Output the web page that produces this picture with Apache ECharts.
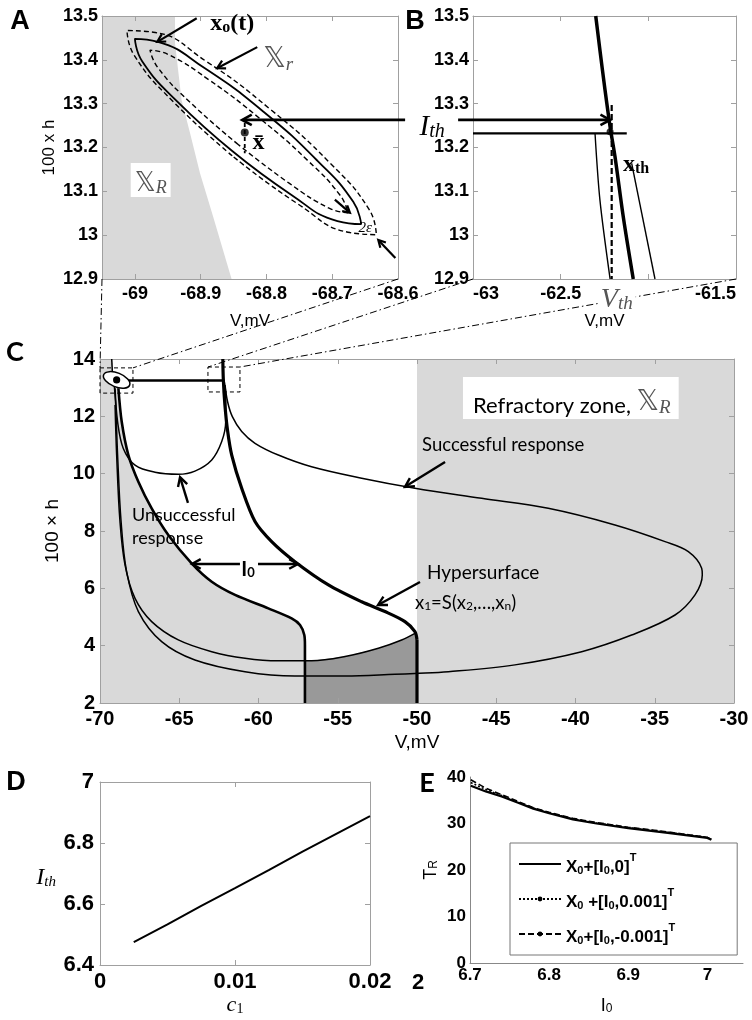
<!DOCTYPE html>
<html><head><meta charset="utf-8">
<script src="https://cdn.jsdelivr.net/npm/echarts@6/dist/echarts.min.js"></script>
<style>html,body{margin:0;padding:0;background:#fff}#c{width:752px;height:1020px}</style>
</head><body><div id="c"></div>
<script>
// ================= DATA =================
// ---- Panel A : neighbourhood of the resting state ----
const A_xTicks = [-69, -68.9, -68.8, -68.7, -68.6];
const A_refractory = [[-69.05,12.9],[-69.05,13.5],[-68.939,13.5],[-68.939,13.438],[-68.929,13.308],[-68.916,13.232],[-68.901,13.141],[-68.881,13.042],[-68.853,12.9]];
const A_orbit = [[-68.852,13.192],[-68.935,13.304],[-68.989,13.397],[-69.000,13.448],[-68.965,13.441],[-68.893,13.380],[-68.804,13.281],[-68.722,13.169],[-68.668,13.076],[-68.656,13.025],[-68.692,13.032],[-68.763,13.093],[-68.852,13.192]];
const A_outer = [[-68.852,13.181],[-68.942,13.305],[-69.001,13.410],[-69.012,13.467],[-68.972,13.463],[-68.892,13.397],[-68.794,13.287],[-68.703,13.164],[-68.644,13.059],[-68.633,13.001],[-68.673,13.006],[-68.753,13.072],[-68.852,13.181]];
const A_inner = [[-68.843,13.207],[-68.916,13.303],[-68.965,13.382],[-68.977,13.422],[-68.949,13.412],[-68.888,13.355],[-68.810,13.266],[-68.737,13.170],[-68.688,13.091],[-68.676,13.051],[-68.704,13.061],[-68.765,13.118],[-68.843,13.207]];
const A_xbar = [[-68.833,13.234]];
const A_xbarDash = [[-68.833,13.256],[-68.833,13.187]];

// ---- Panel B : neighbourhood of the threshold ----
const B_xTicks = [-63, -62.5, -62, -61.5];
const B_xLabels = [-63, -62.5, -61.5];
const B_thick = [[-62.30,13.5],[-62.276,13.422],[-62.247,13.331],[-62.218,13.247],[-62.19,13.179],[-62.143,13.042],[-62.086,12.9]];
const B_thinL = [[-62.304,13.232],[-62.276,13.08],[-62.218,12.9]];
const B_thinR = [[-62.095,13.164],[-61.962,12.9]];
const B_horiz = [[-63,13.232],[-62.123,13.232]];
const B_dash = [[-62.209,13.297],[-62.209,12.9]];
const B_xth = [[-62.218,13.236]];

// ---- Panel C : phase plane (V, 100 x h) ----
const C_grayLeft = [[-70,2],[-70,14],[-69.26,14],[-69.2,13.5],[-69.05,13.1],[-68.84,12.98],[-68.63,11.81],[-68.21,10.65],[-67.58,9.72],[-66.74,8.79],[-65.69,7.86],[-64.22,6.87],[-62.95,6.23],[-61.48,5.77],[-59.38,5.30],[-57.91,4.95],[-57.38,4.72],[-57.11,4.37],[-57.07,4.02],[-57.07,2]];
const C_dark = [[-57.07,2],[-57.07,3.47],[-56.65,3.47],[-54.54,3.62],[-52.44,3.91],[-50.97,4.20],[-50.13,4.43],[-50,4.3],[-50,2]];
const C_grayRight = [[-50,2],[-50,14],[-30,14],[-30,2]];
const C_hyper = [[-62.25,14],[-62.22,13.3],[-62.12,12.4],[-61.95,11.5],[-61.69,10.65],[-61.06,9.49],[-60.22,8.33],[-59.17,7.63],[-57.7,6.93],[-55.59,6.12],[-53.49,5.53],[-52.02,5.19],[-50.76,4.84],[-50.13,4.49],[-50,4.2]];
const C_hyperVert = [[-50,4.2],[-50,2]];
const C_leftThick = [[-68.84,12.98],[-68.63,11.81],[-68.21,10.65],[-67.58,9.72],[-66.74,8.79],[-65.69,7.86],[-64.22,6.87],[-62.95,6.23],[-61.48,5.77],[-59.38,5.30],[-57.91,4.95],[-57.38,4.72],[-57.11,4.37],[-57.07,4.02]];
const C_leftVert = [[-57.07,4.02],[-57.07,2]];
const C_unsuccessful = [[-69.05,12.98],[-68.89,11.81],[-68.53,10.88],[-67.79,10.30],[-66.53,10.05],[-65.06,9.98],[-64.01,10.09],[-62.95,10.48],[-62.32,11.12],[-62.07,11.81],[-62.07,12.74],[-62.16,13.21]];
const C_successful = [[-62.11,13.09],[-61.95,12.51],[-61.65,11.99],[-61.06,11.47],[-60.22,11.06],[-58.75,10.65],[-56.65,10.24],[-53.49,9.84],[-50.13,9.49],[-45.92,9.14],[-41.72,8.79],[-37.51,8.21],[-34.35,7.63],[-32.88,7.28],[-32.04,6.70],[-32.0,6.47],[-32.46,5.77],[-33.72,5.07],[-36.46,4.37],[-39.61,3.79],[-43.82,3.33],[-48.02,3.09],[-50.13,3.03],[-51.39,3.00],[-54.54,2.94],[-57.70,2.94],[-60.85,3.09],[-64.01,3.50],[-66.11,4.14],[-67.58,5.19],[-68.32,6.58],[-68.67,8.33],[-68.89,10.65],[-69.01,12.40],[-69.10,13.09]];
const C_innerLoop = [[-50.13,4.43],[-50.97,4.20],[-52.44,3.91],[-54.54,3.62],[-56.65,3.47],[-58.75,3.47],[-60.85,3.56],[-62.95,3.79],[-65.06,4.20],[-66.74,4.84],[-67.79,5.65],[-68.42,6.81],[-68.74,8.33],[-68.95,10.65],[-69.05,12.40]];
const C_topLeft = [[-69.26,14],[-69.22,13.55]];
const C_horiz = [[-68.3,13.25],[-62.22,13.25]];

// ---- Panel D : threshold vs c1 ----
const D_c1 = [0.0025,0.005,0.0075,0.01,0.0125,0.015,0.0175,0.02];
const D_Ith = [6.475,6.533,6.594,6.652,6.711,6.772,6.830,6.888];

// ---- Panel E : T_R vs I0 ----
const E_I0 = [6.701,6.72,6.74,6.76,6.78,6.80,6.83,6.86,6.90,6.95,7.00,7.005];
const E_T0 = [38.1,36.9,35.8,34.5,33.2,32.2,30.9,30.0,29.0,28.0,26.9,26.5];
const E_Tp = [38.8,37.3,36.0,34.6,33.3,32.3,31.0,30.1,29.1,28.1,27.0,26.6];
const E_Tm = [39.4,37.6,36.2,34.8,33.4,32.4,31.1,30.2,29.2,28.2,27.0,26.6];
const E_xTicks = [6.7,6.8,6.9,7.0];
const E_names = ['X0+[I0,0]T','X0 +[I0,0.001]T','X0+[I0,-0.001]T'];
const E_rich = {
  'X0+[I0,0]T':'{m|X}{s|0}{m|+[I}{s|0}{m|,0]}{p|T}',
  'X0 +[I0,0.001]T':'{m|X}{s|0}{m| +[I}{s|0}{m|,0.001]}{p|T}',
  'X0+[I0,-0.001]T':'{m|X}{s|0}{m|+[I}{s|0}{m|,-0.001]}{p|T}'
};

// ================= STYLE =================
const SANS = "'Liberation Sans', Arial, Helvetica, sans-serif";
const SERIF = "'Liberation Serif', 'DejaVu Serif', serif";
const CAL = "Lato, 'Open Sans', sans-serif";
const DS = "'DejaVu Sans', 'Noto Sans', sans-serif";
const AXC = '#a0a0a0';
const LIGHT = '#d9d9d9', DARK = '#999999';

const grids = [
  {left:102, top:16, width:296, height:263},
  {left:473, top:16, width:263, height:263},
  {left:100, top:359, width:634, height:344},
  {left:100, top:782, width:270, height:183},
  {left:470, top:777, width:273, height:186}
].map(g => Object.assign({show:false, containLabel:false, outerBoundsMode:'none'}, g));

const xAxes = [], yAxes = [];
function axis(g, pos, o) {
  const main = (pos === 'bottom' || pos === 'left');
  const a = {
    gridIndex:g, type:'value', position:pos, min:o.min, max:o.max, z:3,
    axisLine:{show:o.line !== false, onZero:false, lineStyle:{color:o.lineColor || AXC, width:1}},
    axisTick:{show:o.tick !== false, inside:true, length:5, lineStyle:{color:AXC}},
    axisLabel:{show:main, color:'#000', fontFamily:SANS, fontWeight:'bold', fontSize:o.fs || 18, margin:o.margin == null ? 6 : o.margin, formatter:o.fmt},
    splitLine:{show:false}
  };
  if (o.alignMin) a.axisLabel.alignMinLabel = o.alignMin;
  if (o.alignMax) a.axisLabel.alignMaxLabel = o.alignMax;
  if (o.interval != null) a.interval = o.interval;
  if (o.ticks) a.axisTick.customValues = o.ticks;
  if (o.labels) a.axisLabel.customValues = o.labels;
  if (main && o.name) {
    a.name = o.name; a.nameLocation = 'middle'; a.nameGap = o.nameGap;
    a.nameRotate = o.nameRotate;
    a.nameTextStyle = Object.assign({color:'#000', fontFamily:SANS, fontSize:17}, o.nameStyle || {});
  }
  return a;
}
function addBox(g, xo, yo, box) {
  const xi = xAxes.length, yi = yAxes.length;
  xAxes.push(axis(g, 'bottom', xo)); yAxes.push(axis(g, 'left', yo));
  if (box) { xAxes.push(axis(g, 'top', xo)); yAxes.push(axis(g, 'right', yo)); }
  return {xi, yi};
}
const f1 = v => String(+(+v).toFixed(1));
const f2 = v => String(+(+v).toFixed(2));

const axA = addBox(0, {min:-69.05, max:-68.6, ticks:A_xTicks, labels:A_xTicks, fmt:f1, fs:18, name:'V,mV', nameGap:34},
                      {min:12.9, max:13.5, interval:0.1, fmt:f1, fs:18, margin:4, name:'100 x h', nameGap:44}, true);
const axB = addBox(1, {min:-63, max:-61.5, ticks:B_xTicks, labels:B_xLabels, fmt:f1, fs:18, name:'V,mV', nameGap:34, alignMin:'left', alignMax:'right'},
                      {min:12.9, max:13.5, interval:0.1, fmt:f1, fs:18, margin:4}, true);
const axC = addBox(2, {min:-70, max:-30, interval:5, fs:20, margin:6, name:'V,mV', nameGap:30, nameStyle:{fontSize:19}},
                      {min:2, max:14, interval:2, fs:20, margin:5, name:'100 \u00d7 h', nameGap:30, nameStyle:{fontSize:19}}, true);
const axD = addBox(3, {min:0, max:0.02, interval:0.01, fmt:f2, fs:22, margin:6,
                        name:'{c|c}{cs|1}', nameGap:18, nameStyle:{rich:{c:{fontFamily:SERIF, fontStyle:'italic', fontSize:22, lineHeight:30, verticalAlign:'bottom', color:'#000'}, cs:{fontFamily:SERIF, fontSize:14, lineHeight:14, verticalAlign:'bottom', color:'#000'}}}},
                      {min:6.4, max:7, interval:0.2, fmt:f1, fs:22, margin:6,
                        name:'{c|I}{cs|th}', nameGap:44, nameRotate:0, nameStyle:{rich:{c:{fontFamily:SERIF, fontStyle:'italic', fontSize:24, lineHeight:32, verticalAlign:'bottom', color:'#000'}, cs:{fontFamily:SERIF, fontStyle:'italic', fontSize:15, lineHeight:15, verticalAlign:'bottom', color:'#000'}}}}, true);
const axE = addBox(4, {min:6.7, max:7.045, ticks:E_xTicks, labels:E_xTicks, fmt:f1, fs:17, margin:4, tick:false, lineColor:'#888',
                        name:'{c|I}{cs|0}', nameGap:28, nameStyle:{rich:{c:{fontFamily:SANS, fontSize:18, lineHeight:24, verticalAlign:'bottom', color:'#000'}, cs:{fontFamily:SANS, fontSize:12, lineHeight:12, verticalAlign:'bottom', color:'#000'}}}},
                      {min:0, max:40, interval:10, fs:17, margin:4, tick:false, lineColor:'#888',
                        name:'{c|T}{cs|R}', nameGap:30, nameStyle:{rich:{c:{fontFamily:SANS, fontSize:18, lineHeight:24, verticalAlign:'bottom', color:'#000'}, cs:{fontFamily:SANS, fontSize:12, lineHeight:12, verticalAlign:'bottom', color:'#000'}}}}, false);

// ================= SERIES =================
const series = [];
function L(ax, data, w, type, extra) {
  series.push(Object.assign({type:'line', xAxisIndex:ax.xi, yAxisIndex:ax.yi, data, symbol:'none', showSymbol:false,
    smooth:false, silent:true, z:4, lineStyle:{color:'#000', width:w, type:type || 'solid'}}, extra || {}));
}
function POLY(ax, pts, color, z) {
  series.push({type:'custom', xAxisIndex:ax.xi, yAxisIndex:ax.yi, data:[pts[0]], silent:true, z:z || 1, clip:true,
    renderItem:(p, api) => ({type:'polygon', shape:{points:pts.map(q => api.coord(q))}, style:{fill:color}})});
}
function DOT(ax, data, size) {
  series.push({type:'scatter', xAxisIndex:ax.xi, yAxisIndex:ax.yi, data, symbol:'circle', symbolSize:size, silent:true, z:6, itemStyle:{color:'#000'}});
}
// A
POLY(axA, A_refractory, LIGHT);
L(axA, A_outer, 1.4, [5,3], {smooth:0.5});
L(axA, A_orbit, 1.8, 'solid', {smooth:0.5});
L(axA, A_inner, 1.4, [5,3], {smooth:0.5});
L(axA, A_xbarDash, 1.8, [4,3]);
DOT(axA, A_xbar, 8);
// B
L(axB, B_thick, 3.5, 'solid', {smooth:0.3});
L(axB, B_thinL, 1.4, 'solid', {smooth:0.3});
L(axB, B_thinR, 1.4);
L(axB, B_horiz, 2.2);
L(axB, B_dash, 2.2, [6,3]);
DOT(axB, B_xth, 7);
// C
POLY(axC, C_grayRight, LIGHT);
POLY(axC, C_grayLeft, LIGHT);
POLY(axC, C_dark, DARK);
L(axC, C_successful, 1.5, 'solid', {smooth:0.35});
L(axC, C_innerLoop, 1.5, 'solid', {smooth:0.35});
L(axC, C_unsuccessful, 1.5, 'solid', {smooth:0.35});
L(axC, C_topLeft, 1.5);
L(axC, C_leftThick, 2.6, 'solid', {smooth:0.3});
L(axC, C_leftVert, 2.6);
L(axC, C_hyper, 3.2, 'solid', {smooth:0.3});
L(axC, C_hyperVert, 3.2);
L(axC, C_horiz, 2.6);
// D
L(axD, D_c1.map((c, i) => [c, D_Ith[i]]), 2);
// E
L(axE, E_I0.map((x, i) => [x, E_Tm[i]]), 1.6, [6,3], {name:E_names[2], symbol:'circle', symbolSize:4, itemStyle:{color:'#000'}});
L(axE, E_I0.map((x, i) => [x, E_Tp[i]]), 1.6, [2,2], {name:E_names[1], symbol:'circle', symbolSize:4, itemStyle:{color:'#000'}});
L(axE, E_I0.map((x, i) => [x, E_T0[i]]), 2.2, 'solid', {name:E_names[0], itemStyle:{color:'#000'}});

const chart = echarts.init(document.getElementById('c'), null, {renderer:'canvas'});
const NOSYM = {color:'rgba(0,0,0,0)', borderColor:'rgba(0,0,0,0)', borderWidth:0};
chart.setOption({
  animation:false, backgroundColor:'#fff',
  grid:grids, xAxis:xAxes, yAxis:yAxes, series,
  legend:{data:[{name:E_names[0], itemStyle:NOSYM}, {name:E_names[1]}, {name:E_names[2]}],
    left:510, top:843, orient:'vertical', itemWidth:42, itemHeight:6, itemGap:11,
    padding:[9,62,9,8], borderColor:'#777', borderWidth:1, backgroundColor:'#fff', selectedMode:false, z:10,
    formatter:n => E_rich[n],
    textStyle:{color:'#000', fontFamily:SANS, fontWeight:'bold', fontSize:17,
      rich:{m:{fontFamily:SANS, fontWeight:'bold', fontSize:17, lineHeight:24, verticalAlign:'bottom'},
            s:{fontFamily:SANS, fontWeight:'bold', fontSize:11, lineHeight:11, verticalAlign:'bottom'},
            p:{fontFamily:SANS, fontWeight:'bold', fontSize:11, lineHeight:11, verticalAlign:'top'}}}}
});

// ================= ANNOTATIONS =================
const P = (g, pt) => chart.convertToPixel({gridIndex:g}, pt);
const G = [];
function seg(p1, p2, w, dash, color) {
  G.push({type:'line', z:40, silent:true, shape:{x1:p1[0], y1:p1[1], x2:p2[0], y2:p2[1]},
    style:{stroke:color || '#000', lineWidth:w, lineDash:dash || null}});
}
function arrow(p1, p2, w, Lh) {
  const dx = p2[0]-p1[0], dy = p2[1]-p1[1], len = Math.hypot(dx, dy), ux = dx/len, uy = dy/len;
  const a = 0.5, c = Math.cos(a), s = Math.sin(a);
  const h1 = [p2[0] - Lh*(ux*c - uy*s), p2[1] - Lh*(uy*c + ux*s)];
  const h2 = [p2[0] - Lh*(ux*c + uy*s), p2[1] - Lh*(uy*c - ux*s)];
  seg(p1, [p2[0]-ux*1, p2[1]-uy*1], w);
  G.push({type:'polyline', z:41, silent:true, shape:{points:[h1, p2, h2]}, style:{stroke:'#000', lineWidth:w, fill:null, lineJoin:'miter'}});
}
function txt(p, text, st) {
  G.push({type:'text', z:45, silent:true, x:p[0], y:p[1], style:Object.assign({text, fill:'#000', align:'center', verticalAlign:'middle'}, st)});
}
const RICH = {
  bx:{fontFamily:SERIF, fontWeight:'bold', fontSize:24, lineHeight:33, verticalAlign:'bottom', fill:'#000'},
  bs:{fontFamily:SERIF, fontWeight:'bold', fontSize:16, lineHeight:16, verticalAlign:'bottom', fill:'#000'},
  bb:{fontFamily:DS, fontSize:28, lineHeight:38, verticalAlign:'bottom', fill:'#555'},
  bbs:{fontFamily:SERIF, fontStyle:'italic', fontSize:19, lineHeight:19, verticalAlign:'bottom', fill:'#555'},
  sb:{fontFamily:DS, fontSize:26, lineHeight:34, verticalAlign:'bottom', fill:'#555'},
  sbs:{fontFamily:SERIF, fontStyle:'italic', fontSize:18, lineHeight:18, verticalAlign:'bottom', fill:'#555'},
  iv:{fontFamily:SERIF, fontStyle:'italic', fontSize:29, lineHeight:40, verticalAlign:'bottom', fill:'#000'},
  is:{fontFamily:SERIF, fontStyle:'italic', fontSize:20, lineHeight:20, verticalAlign:'bottom', fill:'#000'},
  gv:{fontFamily:SERIF, fontStyle:'italic', fontSize:28, lineHeight:32, verticalAlign:'bottom', fill:'#555'},
  gs:{fontFamily:SERIF, fontStyle:'italic', fontSize:19, lineHeight:15, verticalAlign:'bottom', fill:'#555'},
  t:{fontFamily:CAL, fontSize:22, lineHeight:34, verticalAlign:'bottom', fill:'#000'},
  ct:{fontFamily:CAL, fontSize:18.5, lineHeight:25, verticalAlign:'bottom', fill:'#000'},
  cs:{fontFamily:CAL, fontSize:12, lineHeight:12, verticalAlign:'bottom', fill:'#000'},
  ib:{fontFamily:CAL, fontWeight:'bold', fontSize:20, lineHeight:27, verticalAlign:'bottom', fill:'#000'},
  ibs:{fontFamily:CAL, fontWeight:'bold', fontSize:13, lineHeight:13, verticalAlign:'bottom', fill:'#000'}
};

// --- A annotations ---
txt(P(0, [-68.852, 13.493]), '{bx|x}{bs|o}{bx|(t)}', {rich:RICH});
arrow(P(0, [-68.906, 13.495]), P(0, [-68.966, 13.441]), 2.2, 9);
txt(P(0, [-68.782, 13.411]), '{bb|\u{1D54F}}{bbs|r}', {rich:RICH});
arrow(P(0, [-68.814, 13.429]), P(0, [-68.875, 13.381]), 2.2, 9);
txt(P(0, [-68.812, 13.21]), 'x\u0304', {fontFamily:SERIF, fontWeight:'bold', fontSize:24});
arrow(P(0, [-68.696, 13.081]), P(0, [-68.673, 13.051]), 2.2, 8);
txt(P(0, [-68.650, 13.016]), '2\u03b5', {fontFamily:SERIF, fontStyle:'italic', fontSize:15});
arrow(P(0, [-68.604, 12.948]), P(0, [-68.630, 12.989]), 2.2, 8);
txt(P(0, [-68.976, 13.126]), '{sb|\u{1D54F}}{sbs|R}', {rich:RICH, backgroundColor:'#fff', padding:[0,4,0,4]});

// --- I_th arrow spanning A and B ---
const ithL = P(0, [-68.837, 13.263]), ithR = P(1, [-62.218, 13.263]);
const ithMid = [(ithL[0] + ithR[0]) / 2 + 6, ithL[1]];
arrow([ithMid[0] - 27, ithL[1]], ithL, 2.6, 11);
arrow([ithMid[0] + 26, ithL[1]], ithR, 2.6, 11);
txt([ithMid[0], ithL[1] + 2], '{iv|I}{is|th}', {rich:RICH});

// --- B annotations ---
txt(P(1, [-62.07, 13.17]), '{bx|x}{bs|th}', {rich:RICH});
txt(P(1, [-62.18, 12.857]), '{gv|V}{gs|th}', {rich:RICH, backgroundColor:'#fff', padding:[0,3,0,3]});

// --- C annotations ---
function box(g, a, b, dash) {
  const p = P(g, a), q = P(g, b);
  G.push({type:'rect', z:42, silent:true, shape:{x:Math.min(p[0], q[0]), y:Math.min(p[1], q[1]), width:Math.abs(q[0]-p[0]), height:Math.abs(q[1]-p[1])},
    style:{stroke:'#000', lineWidth:1, fill:null, lineDash:dash}});
}
box(2, [-70, 13.69], [-67.92, 12.81], [4,3]);
box(2, [-63.19, 13.72], [-61.17, 12.85], [4,3]);
const DD = [7,3,1.5,3];
seg(P(0, [-69.05, 12.9]), P(2, [-70, 13.69]), 1, DD);
seg(P(0, [-68.6, 12.9]), P(2, [-67.92, 13.69]), 1, DD);
seg(P(1, [-63, 12.9]), P(2, [-63.19, 13.72]), 1, DD);
seg(P(1, [-61.5, 12.9]), P(2, [-61.17, 13.72]), 1, DD);
const ec = P(2, [-68.95, 13.27]);
G.push({type:'ellipse', z:43, silent:true, x:ec[0], y:ec[1], rotation:-0.38, shape:{cx:0, cy:0, rx:14, ry:7}, style:{fill:'#fff', stroke:'#000', lineWidth:1.5}});
G.push({type:'circle', z:44, silent:true, shape:{cx:ec[0], cy:ec[1], r:3.6}, style:{fill:'#000'}});
const rz = P(2, [-47.1, 13.37]);
txt(rz, '{t|Refractory zone, }{bb|\u{1D54F}}{bbs|R}', {rich:RICH, align:'left', verticalAlign:'top', backgroundColor:'#fff', padding:[2,8,2,10]});
txt(P(2, [-49.68, 11.0]), 'Successful response', {fontFamily:CAL, fontSize:18.5, align:'left'});
arrow(P(2, [-48.23, 10.41]), P(2, [-50.76, 9.54]), 2.4, 10);
txt(P(2, [-67.98, 8.56]), 'Unsuccessful', {fontFamily:CAL, fontSize:18, align:'left'});
txt(P(2, [-67.98, 7.76]), 'response', {fontFamily:CAL, fontSize:18, align:'left'});
arrow(P(2, [-64.45, 8.98]), P(2, [-64.95, 9.88]), 2.4, 10);
txt(P(2, [-60.66, 6.78]), '{ib|I}{ibs|0}', {rich:RICH});
arrow(P(2, [-61.17, 6.85]), P(2, [-64.20, 6.85]), 2.4, 10);
arrow(P(2, [-60.03, 6.85]), P(2, [-57.51, 6.85]), 2.4, 10);
txt(P(2, [-49.37, 6.54]), 'Hypersurface', {fontFamily:CAL, fontSize:19, align:'left'});
txt(P(2, [-50.13, 5.59]), '{ct|x}{cs|1}{ct|=S(x}{cs|2}{ct|,\u2026,x}{cs|n}{ct|)}', {rich:RICH, align:'left'});
arrow(P(2, [-49.81, 6.22]), P(2, [-52.46, 5.42]), 2.4, 10);

// --- panel letters ---
txt([20, 22], 'A', {fontFamily:SANS, fontWeight:'bold', fontSize:27});
txt([415, 22], 'B', {fontFamily:SANS, fontWeight:'bold', fontSize:27});
txt([15, 352], 'C', {fontFamily:CAL, fontWeight:'bold', fontSize:27});
txt([16, 783], 'D', {fontFamily:SANS, fontWeight:'bold', fontSize:27});
txt([427, 783], 'E', {fontFamily:CAL, fontWeight:'bold', fontSize:27});
txt([418, 983], '2', {fontFamily:SANS, fontWeight:'bold', fontSize:22});

chart.setOption({graphic:{elements:G}});
</script></body></html>
